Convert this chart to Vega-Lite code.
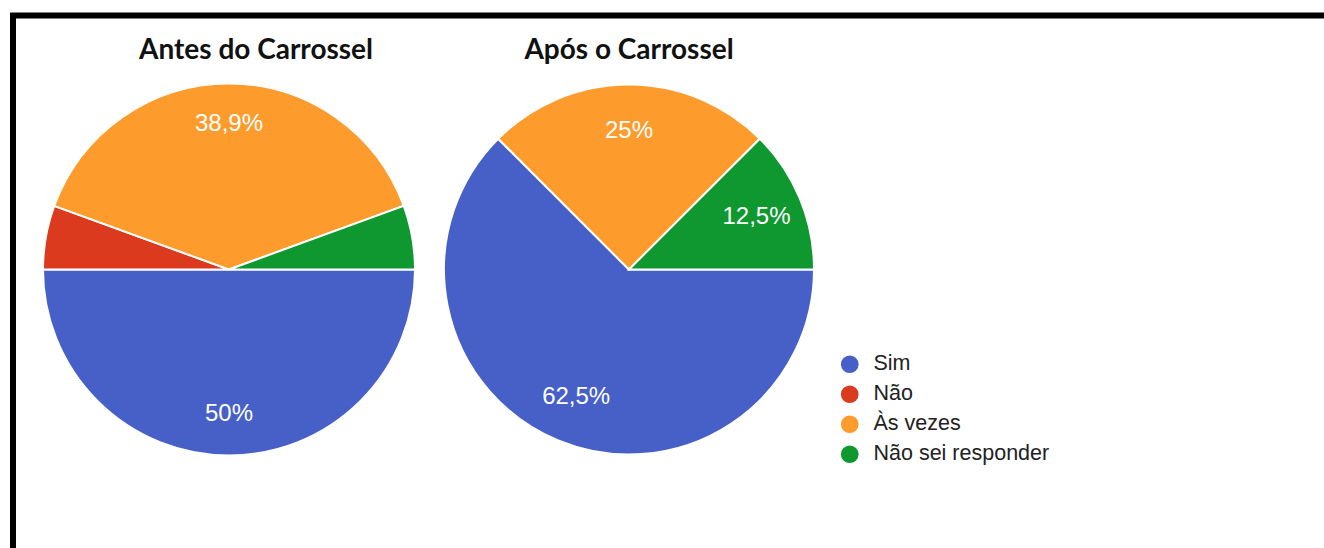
{
  "$schema": "https://vega.github.io/schema/vega-lite/v6.json",
  "autosize": {"type": "none"},
  "width": 1331,
  "height": 553,
  "padding": {"left": 13, "top": 15.5, "right": -20, "bottom": -20},
  "background": "white",
  "config": {
    "view": {"stroke": "black", "strokeWidth": 6},
    "font": "Liberation Sans"
  },
  "datasets": {
    "respostas": [
      {"grafico": "Antes", "resposta": "Sim", "ordem": 1, "percentual": 50, "rotulo": "50%"},
      {"grafico": "Antes", "resposta": "Não", "ordem": 2, "percentual": 5.5556, "rotulo": ""},
      {"grafico": "Antes", "resposta": "Às vezes", "ordem": 3, "percentual": 38.8889, "rotulo": "38,9%"},
      {"grafico": "Antes", "resposta": "Não sei responder", "ordem": 4, "percentual": 5.5556, "rotulo": ""},
      {"grafico": "Após", "resposta": "Sim", "ordem": 1, "percentual": 62.5, "rotulo": "62,5%"},
      {"grafico": "Após", "resposta": "Às vezes", "ordem": 3, "percentual": 25, "rotulo": "25%"},
      {"grafico": "Após", "resposta": "Não sei responder", "ordem": 4, "percentual": 12.5, "rotulo": "12,5%"}
    ],
    "titulos": [
      {"grafico": "Antes", "titulo": "Antes do Carrossel"},
      {"grafico": "Após", "titulo": "Após o Carrossel"}
    ]
  },
  "encoding": {
    "x": {"field": "grafico", "type": "nominal", "axis": null,
      "scale": {"type": "point", "domain": ["Antes", "Após"], "range": [216, 616], "padding": 0}},
    "y": {"datum": "centro", "type": "nominal", "axis": null,
      "scale": {"type": "point", "domain": ["centro"], "align": 0.4593}}
  },
  "layer": [
    {
      "data": {"name": "respostas"},
      "transform": [{"filter": "datum.grafico === 'Antes'"}],
      "mark": {"type": "arc", "outerRadius": 186, "stroke": "white", "strokeWidth": 2},
      "encoding": {
        "theta": {"field": "percentual", "type": "quantitative", "stack": true,
          "scale": {"domain": [0, 100], "range": [1.5708, 7.8540]}},
        "order": {"field": "ordem", "type": "quantitative"},
        "color": {"field": "resposta", "type": "nominal",
          "scale": {"domain": ["Sim", "Não", "Às vezes", "Não sei responder"],
            "range": ["#4660c8", "#dc3a1f", "#fd9b2c", "#0e982f"]},
          "legend": {"title": null, "orient": "none", "legendX": 826, "legendY": 338,
            "padding": 0, "symbolType": "circle", "symbolSize": 314, "symbolStrokeWidth": 0,
            "labelFont": "Liberation Sans", "labelFontSize": 21.5, "labelColor": "#222222",
            "labelOffset": 13, "rowPadding": 7, "labelLimit": 400}}
      }
    },
    {
      "data": {"name": "respostas"},
      "transform": [{"filter": "datum.grafico === 'Após'"}],
      "mark": {"type": "arc", "outerRadius": 185, "stroke": "white", "strokeWidth": 2},
      "encoding": {
        "theta": {"field": "percentual", "type": "quantitative", "stack": true,
          "scale": {"domain": [0, 100], "range": [1.5708, 7.8540]}},
        "order": {"field": "ordem", "type": "quantitative"},
        "color": {"field": "resposta", "type": "nominal"}
      }
    },
    {
      "data": {"name": "respostas"},
      "transform": [{"filter": "datum.grafico === 'Antes'"}],
      "mark": {"type": "text", "radius": 145, "fill": "white", "fontSize": 24, "font": "Liberation Sans", "baseline": "middle", "align": "center"},
      "encoding": {
        "theta": {"field": "percentual", "type": "quantitative", "stack": true},
        "order": {"field": "ordem", "type": "quantitative"},
        "detail": {"field": "resposta", "type": "nominal"},
        "text": {"field": "rotulo", "type": "nominal"}
      }
    },
    {
      "data": {"name": "respostas"},
      "transform": [{"filter": "datum.grafico === 'Após'"}],
      "mark": {"type": "text", "radius": 138, "fill": "white", "fontSize": 24, "font": "Liberation Sans", "baseline": "middle", "align": "center"},
      "encoding": {
        "theta": {"field": "percentual", "type": "quantitative", "stack": true},
        "order": {"field": "ordem", "type": "quantitative"},
        "detail": {"field": "resposta", "type": "nominal"},
        "text": {"field": "rotulo", "type": "nominal"}
      }
    },
    {
      "data": {"name": "titulos"},
      "transform": [{"filter": "datum.grafico === 'Antes'"}],
      "mark": {"type": "text", "font": "Lato", "fontWeight": "bold", "fontSize": 28, "fill": "#111111", "baseline": "alphabetic", "align": "center", "dx": 27, "dy": -210.5},
      "encoding": {"text": {"field": "titulo", "type": "nominal"}}
    },
    {
      "data": {"name": "titulos"},
      "transform": [{"filter": "datum.grafico === 'Após'"}],
      "mark": {"type": "text", "font": "Lato", "fontWeight": "bold", "fontSize": 28, "fill": "#111111", "baseline": "alphabetic", "align": "center", "dx": 0, "dy": -210.5},
      "encoding": {"text": {"field": "titulo", "type": "nominal"}}
    }
  ]
}
